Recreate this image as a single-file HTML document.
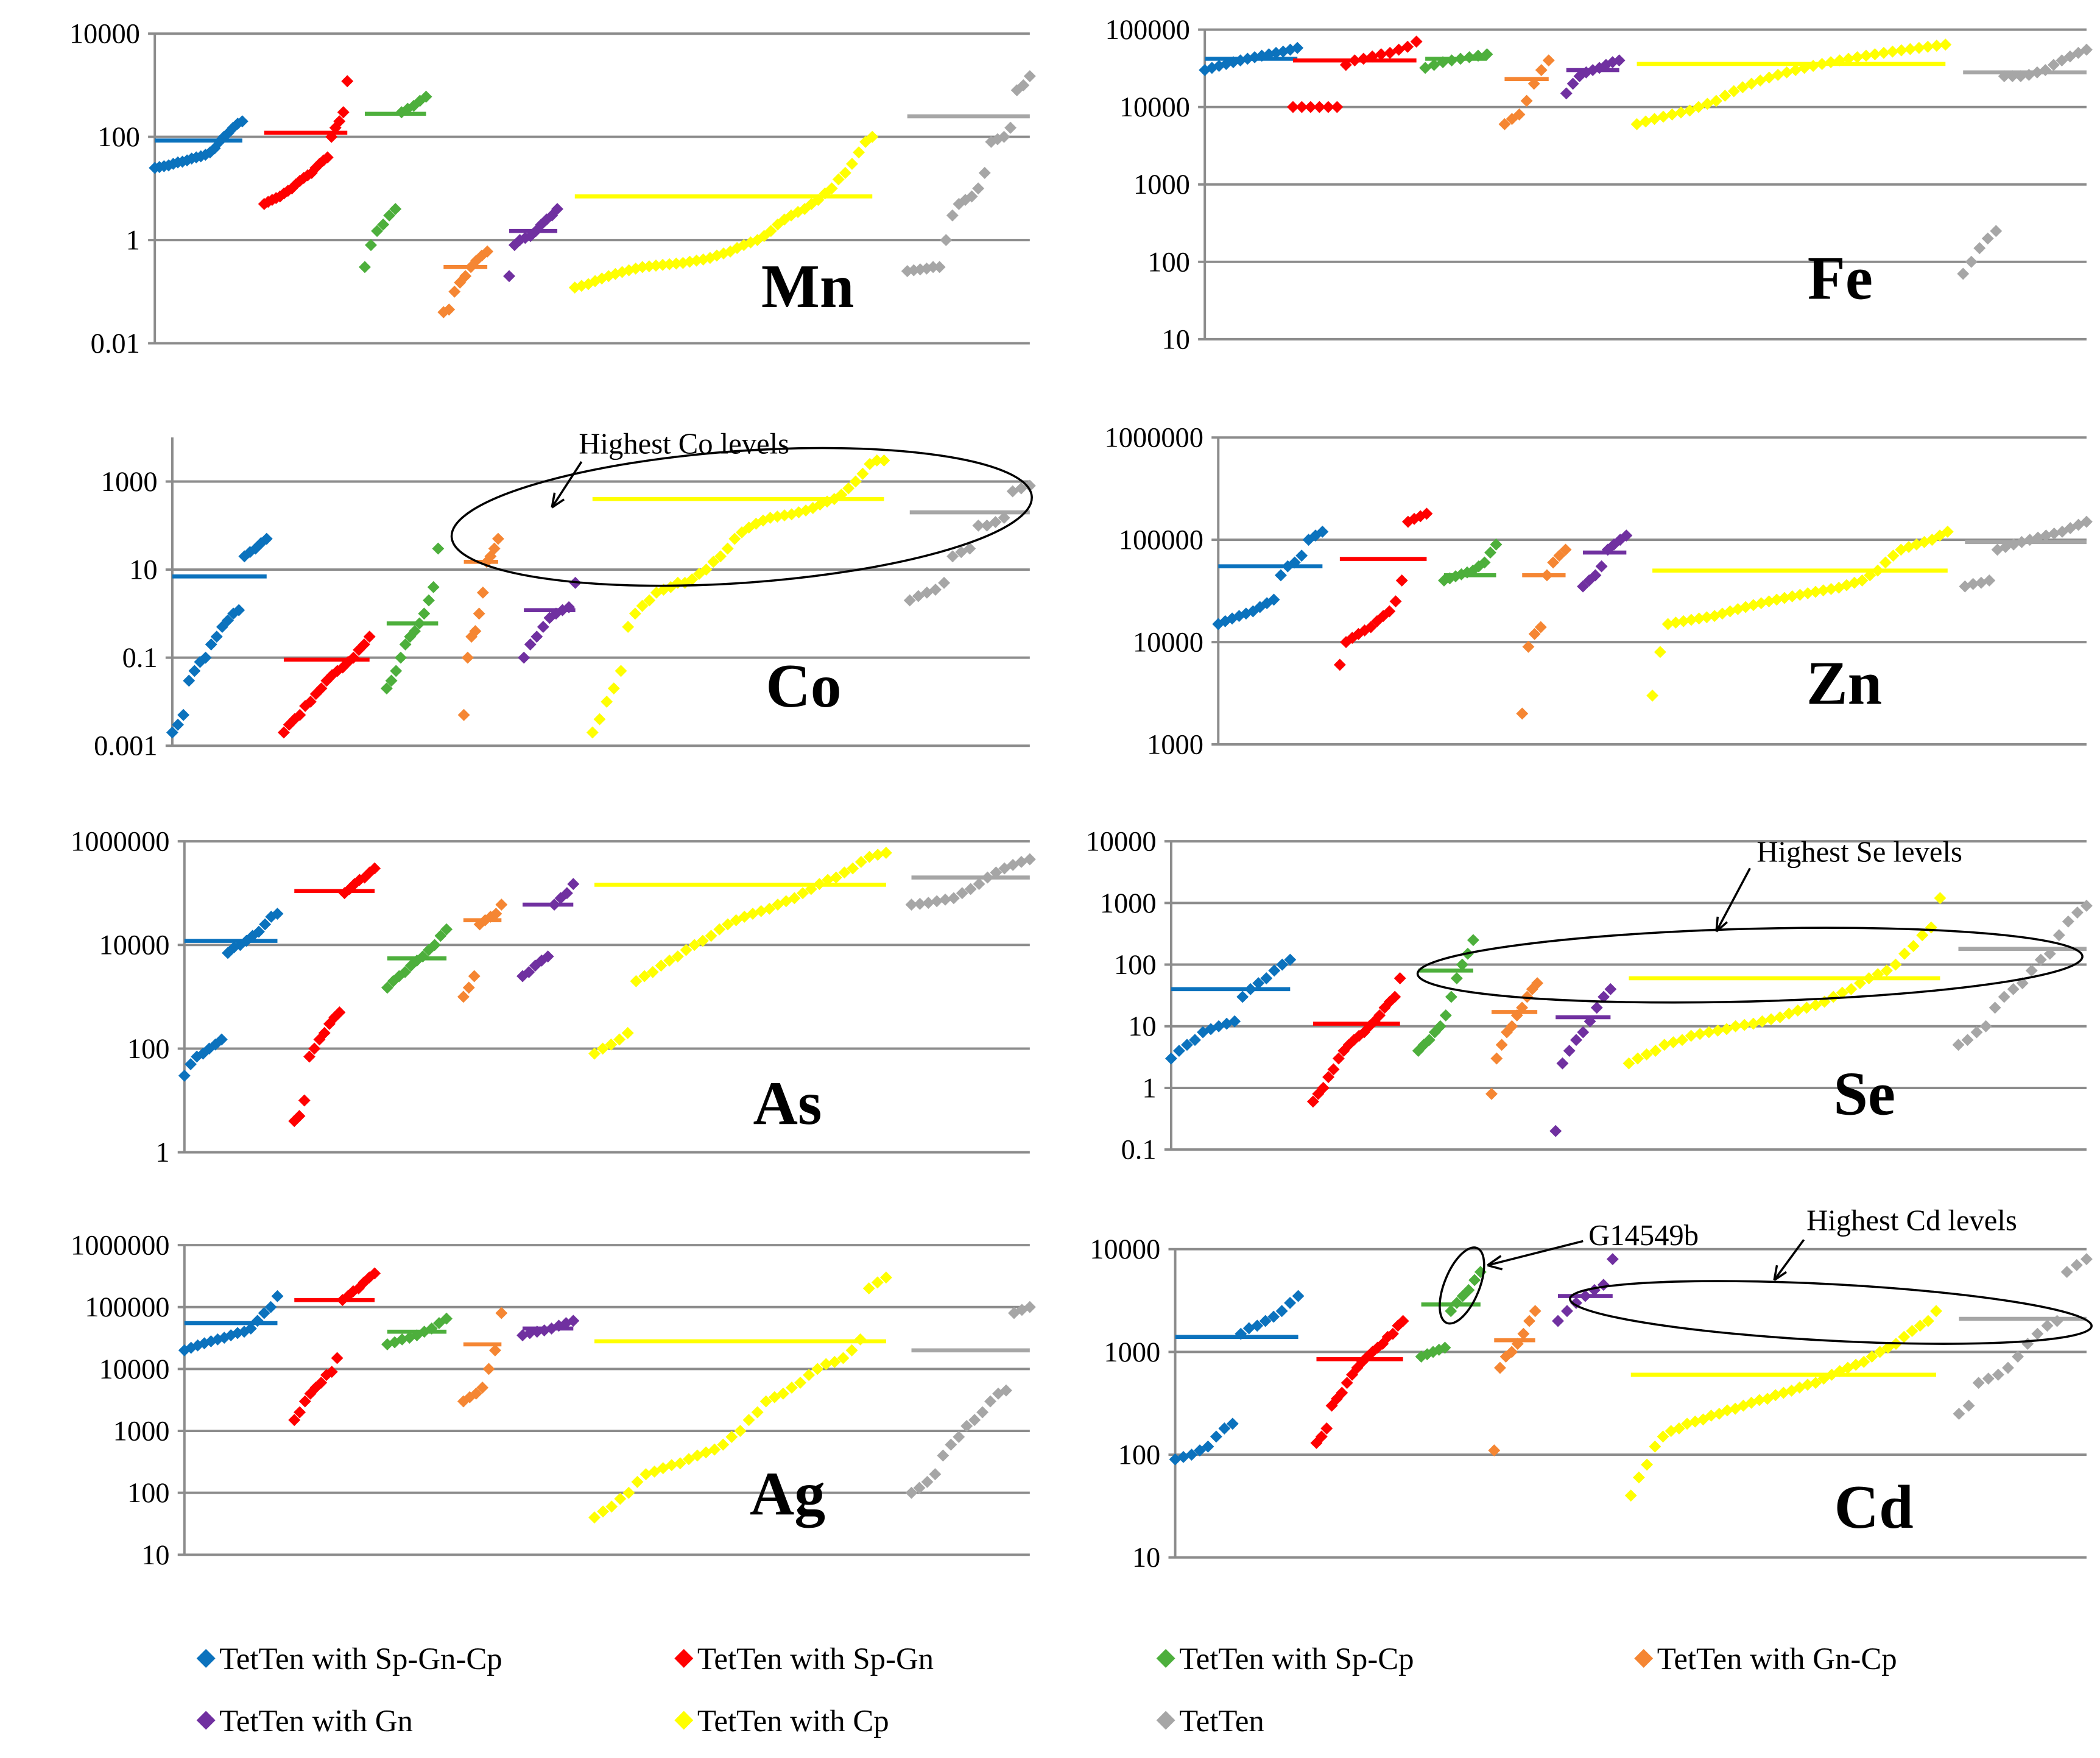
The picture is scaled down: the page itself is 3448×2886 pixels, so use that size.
<!DOCTYPE html>
<html><head><meta charset="utf-8"><style>
html,body{margin:0;padding:0;background:#fff;}
svg{display:block;font-family:"Liberation Serif","DejaVu Serif",serif;}
svg text{font-family:"Liberation Serif","DejaVu Serif",serif;}
</style></head><body>
<svg id="fig" width="3448" height="2886" viewBox="0 0 1560 1306" preserveAspectRatio="none" font-family="Liberation Serif, serif" xmlns="http://www.w3.org/2000/svg">
<rect width="1560" height="1306" fill="#fff"/>
<g id="charts"></g>
<g id="annotations" fill="none" stroke="#000" stroke-width="1.6">
 <ellipse cx="551" cy="384" rx="216" ry="49" transform="rotate(-4 551 384)"/>
 <line x1="432" y1="343" x2="410" y2="377"/><path d="M410 377 l2 -11 M410 377 l9 -6"/>
 <ellipse cx="1300" cy="717" rx="247" ry="27" transform="rotate(-1.5 1300 717)"/>
 <line x1="1300" y1="645" x2="1275" y2="692"/><path d="M1275 692 l1 -11 M1275 692 l8 -7"/>
 <ellipse cx="1360" cy="975" rx="194" ry="21" transform="rotate(3 1360 975)"/>
 <line x1="1340" y1="921" x2="1318" y2="951"/><path d="M1318 951 l2 -11 M1318 951 l9 -6"/>
 <ellipse cx="1086" cy="955" rx="13" ry="30" transform="rotate(22 1086 955)"/>
 <line x1="1176" y1="922" x2="1105" y2="940"/><path d="M1105 940 l10 -7 M1105 940 l11 3"/>
</g>
<g font-size="22" fill="#000" font-family="Liberation Serif, serif">
 <text x="430" y="337">Highest Co levels</text>
 <text x="1305" y="640">Highest Se levels</text>
 <text x="1342" y="914">Highest Cd levels</text>
 <text x="1180" y="925">G14549b</text>
</g>
<g id="legend"></g>
</svg>
<script>
const seriesNames = ["TetTen with Sp-Gn-Cp","TetTen with Sp-Gn","TetTen with Sp-Cp","TetTen with Gn-Cp","TetTen with Gn","TetTen with Cp","TetTen"];
const seriesColors = ["#0b72bd","#ff0000","#4daf3c","#f58633","#7030a0","#ffff00","#a6a6a6"];
const mnRanges=[[0,10],[12.5,22],[24,31],[33,38],[40.5,46],[48,82],[86,100]];
const mnValues=[
[25,26,27,28,30,32,33,35,38,40,42,45,50,60,80,100,120,150,180,200],
[5,5.5,6,6.5,7,8,9,10,12,14,16,18,20,25,30,35,40,100,150,200,300,1200],
[0.3,0.8,1.5,2,3,4,300,350,400,500,600],
[0.04,0.045,0.1,0.15,0.2,0.3,0.4,0.5,0.6],
[0.2,0.8,1,1.1,1.2,1.5,2,2.5,3,4],
[0.12,0.13,0.14,0.16,0.18,0.2,0.22,0.24,0.26,0.28,0.3,0.31,0.32,0.33,0.34,0.35,0.36,0.38,0.4,0.42,0.45,0.5,0.55,0.6,0.7,0.8,0.9,1,1.2,1.5,2,2.5,3,3.5,4,5,6,8,10,15,20,30,50,80,100],
[0.25,0.26,0.27,0.28,0.3,0.3,1,3,5,6,7,10,20,80,90,100,150,800,1000,1500]];
const mnMeans=[85,120,280,0.3,1.5,7,250];

const feRanges=[[0,10.5],[10,24],[25,32],[34,39],[41,47],[49,84],[86,100]];
const feValues=[
[30000,32000,34000,36000,38000,40000,42000,44000,46000,48000,50000,52000,55000,58000],
[10000,10000,10000,10000,10000,10000,35000,40000,42000,45000,48000,50000,55000,60000,70000],
[32000,35000,38000,40000,42000,44000,46000,48000],
[6000,7000,8000,12000,20000,30000,40000],
[15000,20000,25000,28000,30000,32000,35000,38000,40000],
[6000,6500,7000,7500,8000,8500,9000,10000,11000,12000,14000,16000,18000,20000,22000,24000,26000,28000,30000,32000,34000,36000,38000,40000,42000,44000,46000,48000,50000,52000,54000,56000,58000,60000,62000,64000],
[70,100,150,200,250,25000,25000,25000,26000,28000,30000,35000,40000,45000,50000,55000]];
const feMeans=[42000,40000,42000,23000,30000,36000,28000];

const coRanges=[[0,11],[13,23],[25,31],[34,38],[41,47],[49,83],[86,100]];
const coValues=[
[0.002,0.003,0.005,0.03,0.05,0.08,0.1,0.2,0.3,0.5,0.7,1,1.2,20,25,30,40,50],
[0.002,0.003,0.004,0.005,0.008,0.01,0.015,0.02,0.03,0.04,0.05,0.06,0.08,0.1,0.15,0.2,0.3],
[0.02,0.03,0.05,0.1,0.2,0.3,0.4,0.6,1,2,4,30],
[0.005,0.1,0.3,0.4,1,3,15,20,30,50],
[0.1,0.2,0.3,0.5,0.8,1,1.2,1.4,5],
[0.002,0.004,0.01,0.02,0.05,0.5,1,1.5,2,3,3.5,4,5,5,6,8,10,15,20,30,50,70,90,110,130,150,160,170,180,200,220,250,300,350,400,500,700,1000,1500,2500,3000,3000],
[2,2.5,3,3.5,5,20,25,30,100,100,120,150,600,700,800]];
const coMeans=[7,0.09,0.6,15,1.2,400,200];

const znRanges=[[0,12],[14,24],[26,32],[35,40],[42,47],[50,84],[86,100]];
const znValues=[
[15000,16000,17000,18000,19000,20000,22000,24000,26000,45000,55000,60000,70000,100000,110000,120000],
[6000,10000,11000,12000,13000,14000,16000,18000,20000,25000,40000,150000,160000,170000,180000],
[40000,42000,44000,46000,48000,50000,55000,60000,75000,90000],
[2000,9000,12000,14000,45000,60000,70000,80000],
[35000,40000,45000,55000,80000,90000,100000,110000],
[3000,8000,15000,15500,16000,16500,17000,17500,18000,19000,20000,21000,22000,23000,24000,25000,26000,27000,28000,29000,30000,31000,32000,33000,34000,36000,38000,40000,45000,50000,60000,70000,80000,85000,90000,95000,100000,110000,120000],
[35000,37000,38000,40000,80000,85000,90000,95000,100000,105000,110000,115000,120000,130000,140000,150000]];
const znMeans=[55000,65000,45000,45000,75000,50000,95000];

const asRanges=[[0,11],[13,22.5],[24,31],[33,37.5],[40,46],[48.5,83],[86,100]];
const asValues=[
[30,50,70,80,100,120,150,7000,9000,10000,12000,15000,18000,25000,35000,40000],
[4,5,10,70,100,150,200,300,400,500,100000,120000,150000,180000,200000,250000,300000],
[1500,2000,2500,3000,4000,5000,6000,8000,10000,15000,20000],
[1000,1500,2500,25000,30000,35000,40000,60000],
[2500,3000,4000,5000,6000,60000,80000,100000,150000],
[80,100,120,150,200,2000,2500,3000,4000,5000,6000,8000,10000,12000,15000,20000,25000,30000,35000,40000,45000,50000,60000,70000,80000,100000,120000,150000,180000,200000,250000,300000,400000,500000,550000,600000],
[60000,62000,65000,70000,75000,80000,100000,120000,150000,200000,250000,300000,350000,400000,450000]];
const asMeans=[12000,110000,5500,30000,60000,145000,200000];

const seRanges=[[0,13],[15.5,25],[27,33],[35,40],[42,48],[50,84],[86,100]];
const seValues=[
[3,4,5,6,8,9,10,11,12,30,40,50,60,80,100,120],
[0.6,0.8,1,1.5,2,3,4,5,6,7,8,10,12,15,20,25,30,60],
[4,5,6,8,10,15,30,60,100,150,250],
[0.8,3,5,8,10,15,20,30,40,50],
[0.2,2.5,4,6,8,12,20,30,40],
[2.5,3,3.5,4,5,5.5,6,7,7.5,8,8.5,9,10,10.5,11,12,13,14,16,18,20,22,25,30,35,40,50,60,70,80,100,150,200,300,400,1200],
[5,6,8,10,20,30,40,50,80,120,150,300,500,700,900]];
const seMeans=[40,11,80,17,14,60,180];

const agRanges=[[0,11],[13,22.5],[24,31],[33,37.5],[40,46],[48.5,83],[86,100]];
const agValues=[
[20000,22000,24000,26000,28000,30000,32000,35000,38000,40000,45000,60000,80000,100000,150000],
[1500,2000,3000,4000,5000,6000,8000,9000,15000,130000,150000,180000,200000,250000,300000,350000],
[25000,27000,30000,32000,35000,40000,45000,55000,65000],
[3000,3500,4000,5000,10000,20000,80000],
[35000,38000,40000,42000,45000,50000,55000,60000],
[40,50,60,80,100,150,200,220,250,280,300,350,400,450,500,600,800,1000,1500,2000,3000,3500,4000,5000,6000,8000,10000,12000,13000,15000,20000,30000,200000,250000,300000],
[100,120,150,200,400,600,800,1200,1500,2000,3000,4000,4500,80000,90000,100000]];
const agMeans=[55000,130000,40000,25000,45000,28000,20000];

const cdRanges=[[0,13.5],[15.5,25],[27,33.5],[35,39.5],[42,48],[50,83.5],[86,100]];
const cdValues=[
[90,95,100,110,120,150,180,200,1500,1700,1800,2000,2200,2500,3000,3500],
[130,150,180,300,350,400,500,600,700,800,900,1000,1100,1200,1400,1500,1800,2000],
[900,950,1000,1050,1100,2500,3000,3500,4000,5000,6000],
[110,700,900,1000,1200,1500,2000,2500],
[2000,2500,3000,3500,4000,4500,8000],
[40,60,80,120,150,170,180,200,210,220,240,250,270,280,300,320,340,350,380,400,420,450,480,500,550,600,650,700,750,800,900,1000,1100,1200,1400,1600,1800,2000,2500],
[250,300,500,550,600,700,900,1200,1500,1800,2000,6000,7000,8000]];
const cdMeans=[1400,850,2900,1300,3500,600,2100];

const panels=[
 {id:"mn",label:"Mn",x0:115,x1:765,yTop:25,yBot:255,vMin:0.01,vMax:10000,ticks:[0.01,1,100,10000],tickLabels:["0.01","1","100","10000"],lx:600,ly:228,ranges:mnRanges,values:mnValues,means:mnMeans},
 {id:"fe",label:"Fe",x0:895,x1:1550,yTop:22,yBot:252,vMin:10,vMax:100000,ticks:[10,100,1000,10000,100000],tickLabels:["10","100","1000","10000","100000"],lx:1367,ly:222,ranges:feRanges,values:feValues,means:feMeans},
 {id:"co",label:"Co",x0:128,x1:765,yTop:325,yBot:554,vMin:0.001,vMax:10000,ticks:[0.001,0.1,10,1000],tickLabels:["0.001","0.1","10","1000"],lx:597,ly:525,ranges:coRanges,values:coValues,means:coMeans},
 {id:"zn",label:"Zn",x0:905,x1:1550,yTop:325,yBot:553,vMin:1000,vMax:1000000,ticks:[1000,10000,100000,1000000],tickLabels:["1000","10000","100000","1000000"],lx:1370,ly:523,ranges:znRanges,values:znValues,means:znMeans},
 {id:"as",label:"As",x0:137,x1:765,yTop:625,yBot:856,vMin:1,vMax:1000000,ticks:[1,100,10000,1000000],tickLabels:["1","100","10000","1000000"],lx:585,ly:835,ranges:asRanges,values:asValues,means:asMeans},
 {id:"se",label:"Se",x0:870,x1:1550,yTop:625,yBot:854,vMin:0.1,vMax:10000,ticks:[0.1,1,10,100,1000,10000],tickLabels:["0.1","1","10","100","1000","10000"],lx:1385,ly:828,ranges:seRanges,values:seValues,means:seMeans},
 {id:"ag",label:"Ag",x0:137,x1:765,yTop:925,yBot:1155,vMin:10,vMax:1000000,ticks:[10,100,1000,10000,100000,1000000],tickLabels:["10","100","1000","10000","100000","1000000"],lx:585,ly:1125,ranges:agRanges,values:agValues,means:agMeans},
 {id:"cd",label:"Cd",x0:873,x1:1550,yTop:928,yBot:1157,vMin:10,vMax:10000,ticks:[10,100,1000,10000],tickLabels:["10","100","1000","10000"],lx:1392,ly:1135,ranges:cdRanges,values:cdValues,means:cdMeans}
];
const NS="http://www.w3.org/2000/svg";
const SERIF="Liberation Serif, DejaVu Serif, serif";
function mk(tag,attrs,parent){const e=document.createElementNS(NS,tag);for(const k in attrs)e.setAttribute(k,attrs[k]);parent.appendChild(e);return e;}
const root=document.getElementById("charts");
function diamond(cx,cy,r){return `M${cx} ${cy-r}L${cx+r} ${cy}L${cx} ${cy+r}L${cx-r} ${cy}Z`;}
panels.forEach(p=>{
 const g=mk("g",{},root);
 
 
 const ly=Math.log10(p.vMin), hy=Math.log10(p.vMax);
 const yS=v=>p.yBot-(Math.log10(v)-ly)/(hy-ly)*(p.yBot-p.yTop);
 const xS=i=>p.x0+i/100*(p.x1-p.x0);
 p.ticks.forEach((t,k)=>{
  const y=yS(t);
  const gl=mk("line",{x1:p.x0-5,x2:p.x1,y1:y,y2:y,stroke:"#8c8c8c","stroke-width":1.8},g);
  
  
  const tl=mk("text",{x:p.x0-11,y:y+7,"text-anchor":"end","font-size":21,"font-family":SERIF},g);
  tl.textContent=p.tickLabels[k];
  
  
 });
 const ax=mk("line",{x1:p.x0,x2:p.x0,y1:p.yTop,y2:p.yBot,stroke:"#8c8c8c","stroke-width":1.8},g);
 
 
 p.values.forEach((vals,s)=>{
  const [a,b]=p.ranges[s];
  const sg=mk("g",{fill:seriesColors[s]},g);
  
  
  const n=vals.length;
  vals.forEach((v,i)=>{
   const x=xS(a+(n>1?i/(n-1):0)*(b-a));
   const d=mk("path",{d:diamond(x,yS(v),4.5)},sg);
   
   
  });
  const my=yS(p.means[s]);
  const ml=mk("line",{x1:xS(a),x2:xS(b),y1:my,y2:my,stroke:seriesColors[s],"stroke-width":3},g);
  
  
 });
 const lab=mk("text",{x:p.lx,y:p.ly,"text-anchor":"middle","font-size":46,"font-weight":"bold","font-family":SERIF},g);
 lab.textContent=p.label;
 
 
});
const legendPos=[[145,1232],[500,1232],[858,1232],[1213,1232],[145,1278],[500,1278],[858,1278]];
const lg=document.getElementById("legend");
seriesNames.forEach((nm,i)=>{
 const [x,y]=legendPos[i];
 const e=mk("g",{},lg);
 
 
 mk("path",{d:diamond(x+8,y,7),fill:seriesColors[i]},e);
 const t=mk("text",{x:x+18,y:y+8,"font-size":23,"font-family":SERIF},e);
 t.textContent=nm;
});
</script>
</body></html>
